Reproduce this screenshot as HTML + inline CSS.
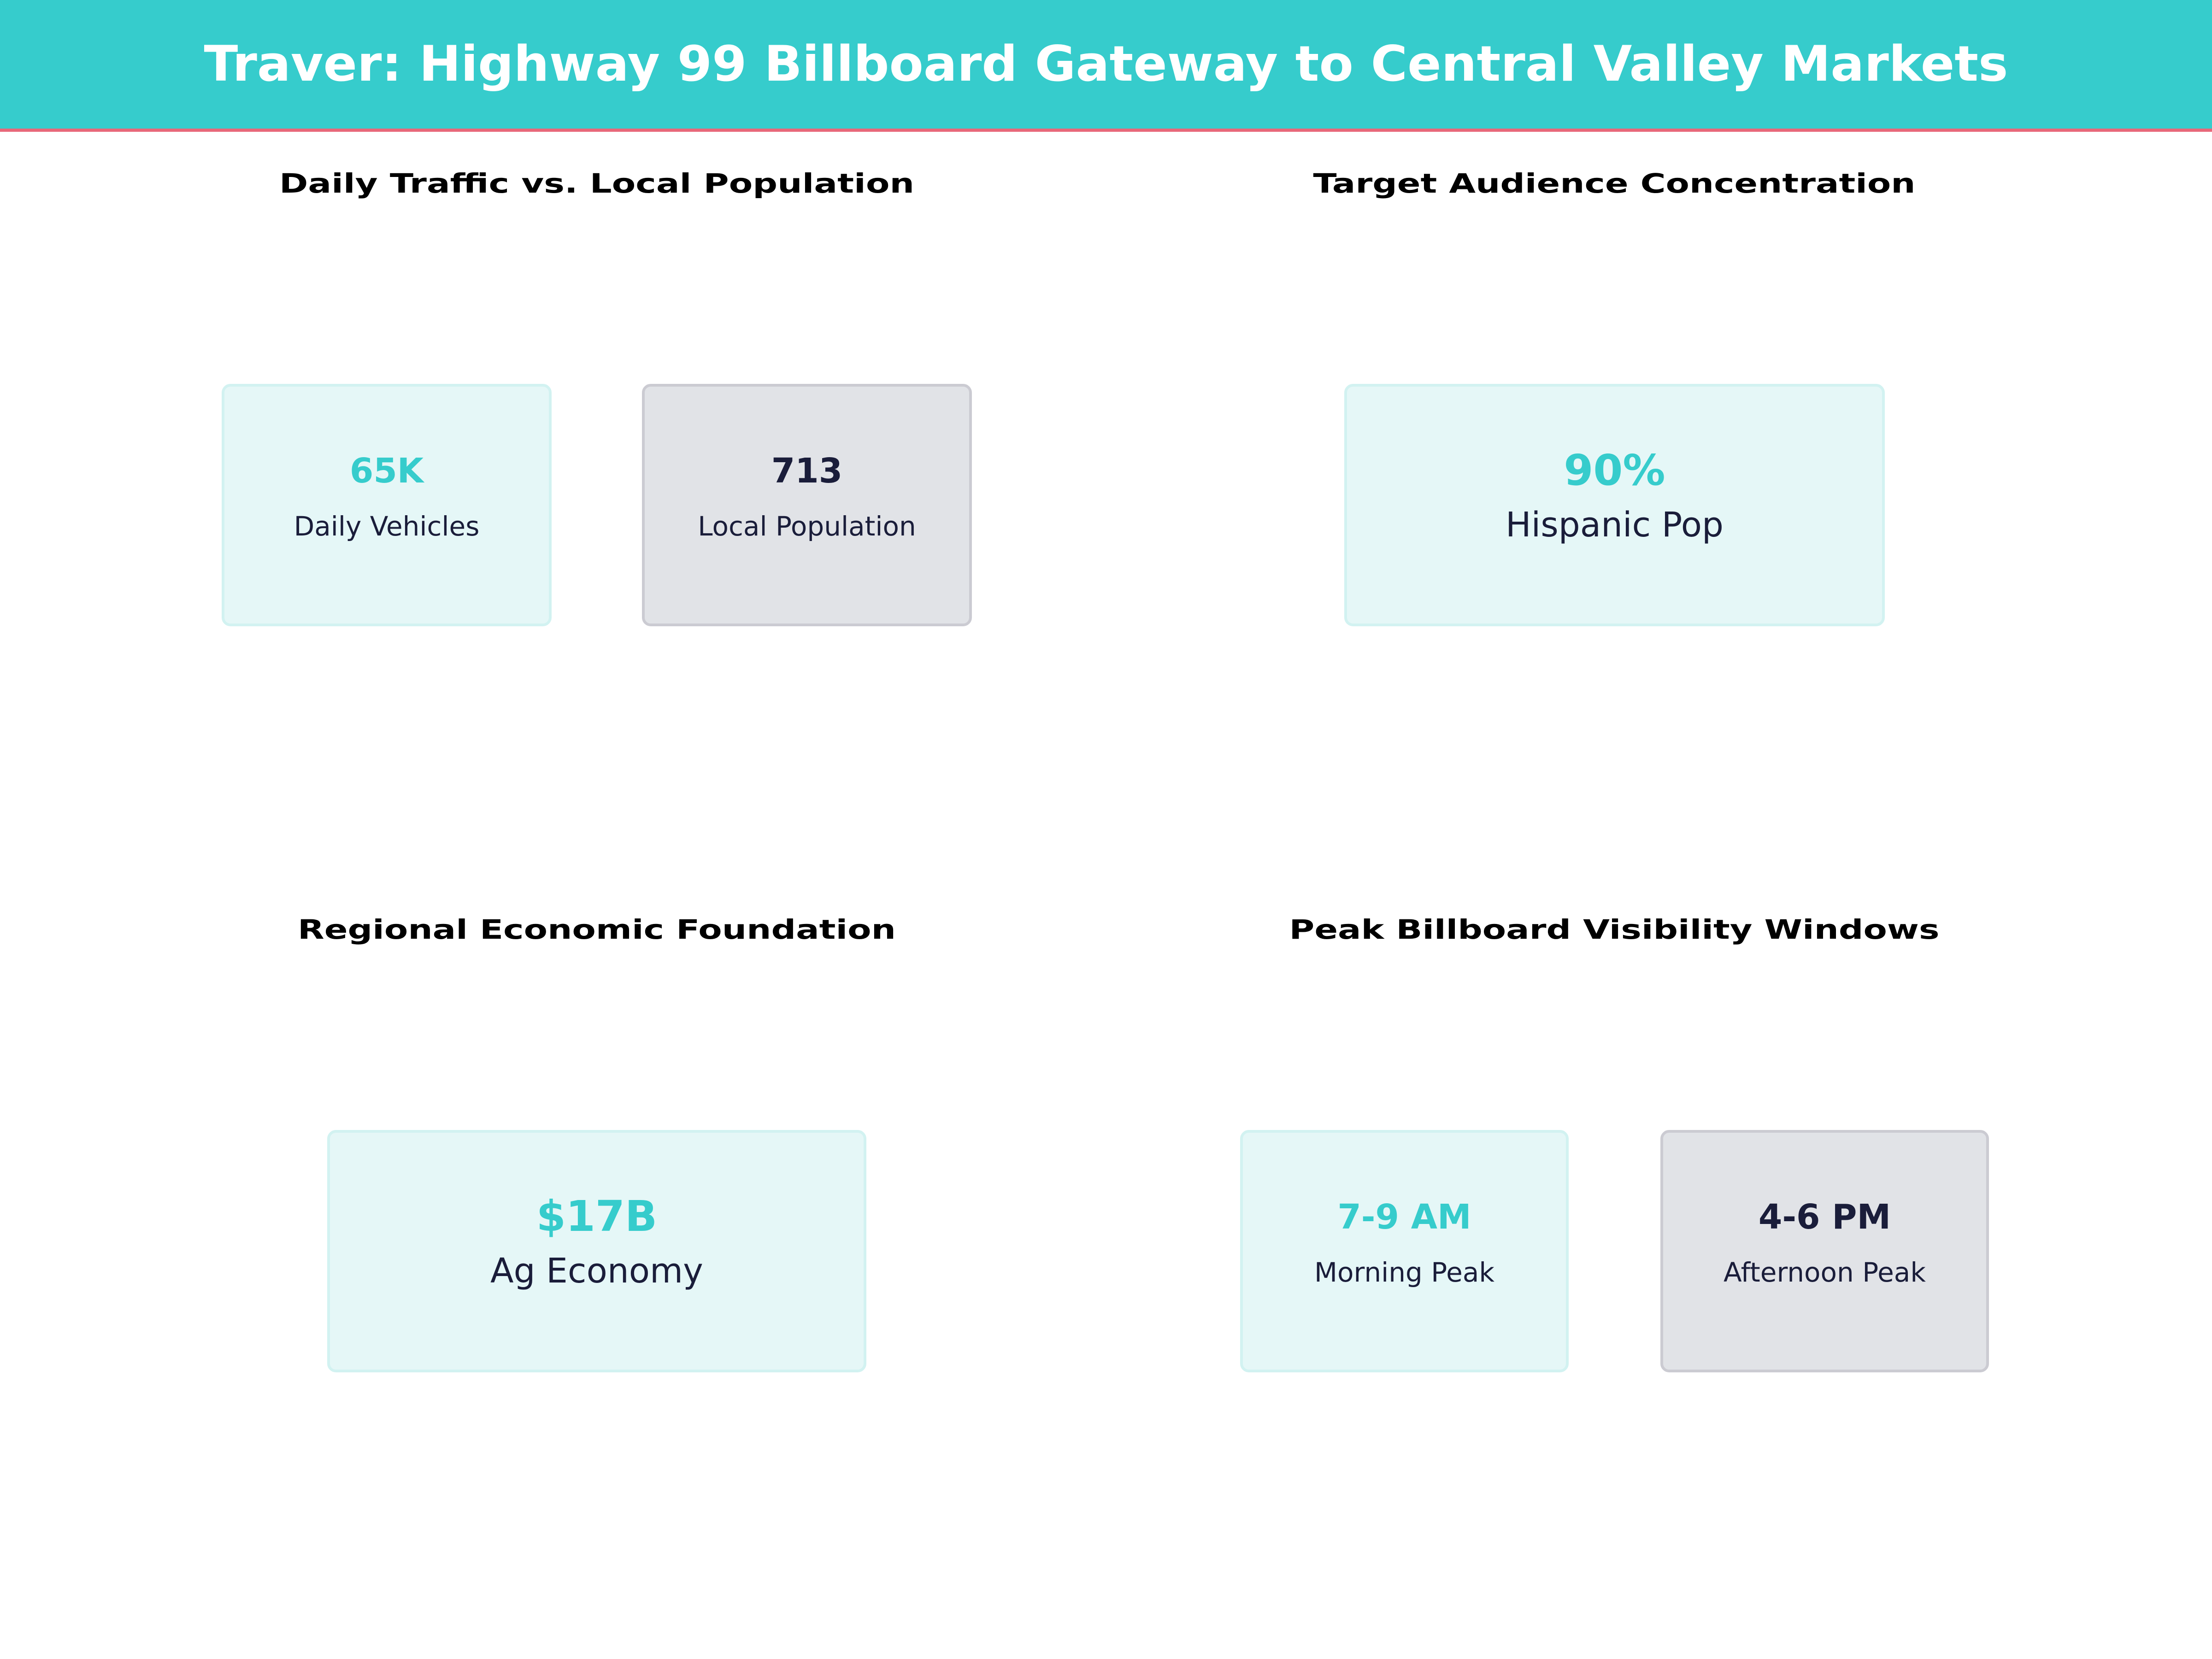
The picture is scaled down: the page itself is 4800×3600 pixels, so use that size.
<!DOCTYPE html>
<html><head><meta charset="utf-8"><style>
html,body{margin:0;padding:0;background:#fff;}
svg{display:block;font-family:"DejaVu Sans","Liberation Sans",sans-serif;}
</style></head><body>
<svg id="chart" width="4800" height="3600" viewBox="0 0 4800 3600" xmlns="http://www.w3.org/2000/svg">
<rect x="0" y="0" width="4800" height="280" fill="#36CCCC"/>
<rect x="0" y="279" width="4800" height="7" fill="#E8687A"/>
<text x="2400" y="175" text-anchor="middle" font-size="106" font-weight="bold" fill="#ffffff" textLength="3915" lengthAdjust="spacingAndGlyphs">Traver: Highway 99 Billboard Gateway to Central Valley Markets</text>
<text x="1295" y="418" text-anchor="middle" font-size="58" font-weight="bold" fill="#000" textLength="1378" lengthAdjust="spacingAndGlyphs">Daily Traffic vs. Local Population</text>
<text x="3503" y="418" text-anchor="middle" font-size="58" font-weight="bold" fill="#000" textLength="1307" lengthAdjust="spacingAndGlyphs">Target Audience Concentration</text>
<text x="1295" y="2037" text-anchor="middle" font-size="58" font-weight="bold" fill="#000" textLength="1298" lengthAdjust="spacingAndGlyphs">Regional Economic Foundation</text>
<text x="3503" y="2037" text-anchor="middle" font-size="58" font-weight="bold" fill="#000" textLength="1411" lengthAdjust="spacingAndGlyphs">Peak Billboard Visibility Windows</text>
<g id="cards"></g>
</svg>
<script>
const cardValues = ["65K", "713", "90%", "$17B", "7-9 AM", "4-6 PM"];
const cardLabels = ["Daily Vehicles", "Local Population", "Hispanic Pop", "Ag Economy", "Morning Peak", "Afternoon Peak"];
const cardStyles = ["teal", "gray", "teal", "teal", "teal", "gray"];
const cardSizes = ["small", "small", "big", "big", "small", "small"];
const cardBoxes = [[484, 836, 710, 520], [1396, 836, 710, 520], [2920, 836, 1167, 520], [713, 2455, 1164, 520], [2694, 2455, 707, 520], [3606, 2455, 707, 520]];
const NS = "http://www.w3.org/2000/svg";
const g = document.getElementById("cards");
const pal = { teal: { fill: "#E5F7F7", stroke: "#D2F2F1", val: "#36CCCC" }, gray: { fill: "#E1E3E7", stroke: "#CBCBD2", val: "#1A1D3A" } };
for (let i = 0; i < cardValues.length; i++) {
  const [x, y, w, h] = cardBoxes[i];
  const p = pal[cardStyles[i]];
  const big = cardSizes[i] === "big";
  const r = document.createElementNS(NS, "rect");
  r.setAttribute("x", x); r.setAttribute("y", y); r.setAttribute("width", w); r.setAttribute("height", h);
  r.setAttribute("rx", 16); r.setAttribute("fill", p.fill); r.setAttribute("stroke", p.stroke); r.setAttribute("stroke-width", 6);
  
  
  g.appendChild(r);
  const cx = x + w / 2;
  const v = document.createElementNS(NS, "text");
  v.setAttribute("x", cx); v.setAttribute("y", big ? 1052 - 836 + y : 1047 - 836 + y);
  v.setAttribute("text-anchor", "middle"); v.setAttribute("font-weight", "bold");
  v.setAttribute("font-size", big ? 92 : 74); v.setAttribute("fill", p.val);
  v.textContent = cardValues[i];
  
  
  g.appendChild(v);
  const l = document.createElementNS(NS, "text");
  l.setAttribute("x", cx); l.setAttribute("y", big ? 1164 - 836 + y : 1162 - 836 + y);
  l.setAttribute("text-anchor", "middle");
  l.setAttribute("font-size", big ? 74 : 58); l.setAttribute("fill", "#1A1D3A");
  l.textContent = cardLabels[i];
  
  
  g.appendChild(l);
}
</script>
</body></html>
